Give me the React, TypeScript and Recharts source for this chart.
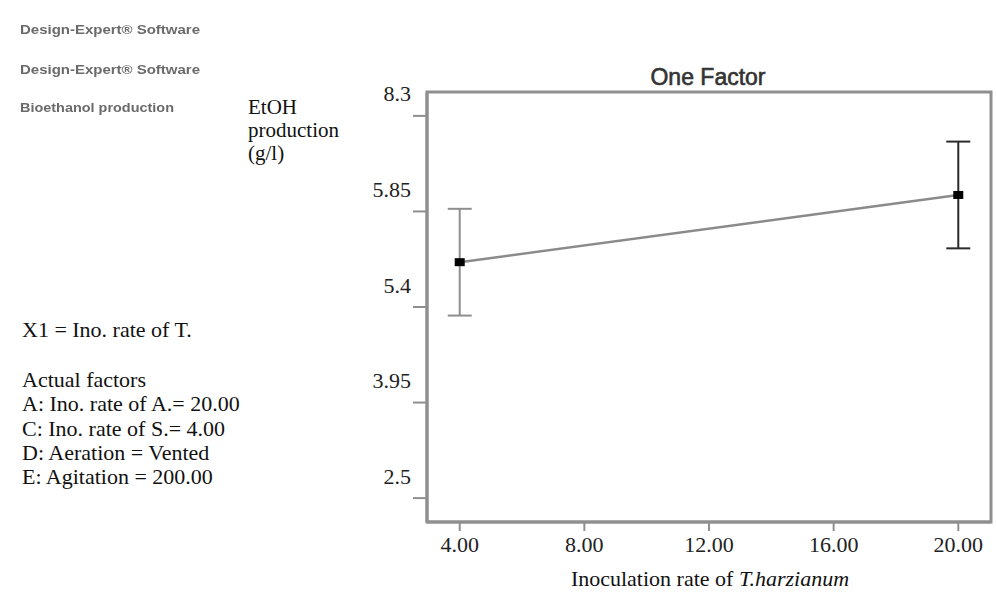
import React from 'react';
import {
  ComposedChart,
  Line,
  Scatter,
  XAxis,
  YAxis,
  ErrorBar,
  ReferenceArea,
} from 'recharts';

// ---- data ----
const inoculationRates = [4, 20];
const etohMeans = [6.08, 7.1];
const etohErrors = [0.81, 0.81];
const errorBarColors = ['#8e8e8e', '#2b2b2b'];

const xTicks = [4, 8, 12, 16, 20];
const xDomain = [2.95, 21.05];
const yTicks = [2.5, 3.95, 5.4, 6.85, 8.3];
const yTickLabels = ['2.5', '3.95', '5.4', '5.85', '8.3'];
const yDomain = [2.1375, 8.6625];

const softwareLines = ['Design-Expert® Software', 'Design-Expert® Software', 'Bioethanol production'];
const yTitleLines = ['EtOH', 'production', '(g/l)'];
const factorHeader = 'X1 = Ino. rate of T.';
const factorLines = [
  'Actual factors',
  'A: Ino. rate of A.= 20.00',
  'C: Ino. rate of S.= 4.00',
  'D: Aeration = Vented',
  'E: Agitation = 200.00',
];
const chartTitle = 'One Factor';
const xTitlePlain = 'Inoculation rate of ';
const xTitleItalic = 'T.harzianum';

const rows = inoculationRates.map((x, i) => ({ x, y: etohMeans[i], err: etohErrors[i] }));

const SERIF = '"Liberation Serif", "Times New Roman", serif';
const SANS = '"Liberation Sans", Arial, sans-serif';
const AXIS_GREY = '#8f8f8f';

const YTick = (props: any) => {
  const { x, y, payload } = props;
  const idx = yTicks.indexOf(payload.value);
  return (
    <text x={x} y={y} dy={-14.5} textAnchor="end" fontFamily={SERIF} fontSize={22} fill="#222">
      {idx >= 0 ? yTickLabels[idx] : payload.value}
    </text>
  );
};

const Marker = (props: any) => {
  const { cx, cy } = props;
  if (cx == null || cy == null) return null;
  return <rect x={cx - 5} y={cy - 4} width={10} height={8} fill="#000" />;
};

export default function App() {
  return (
    <div style={{ position: 'absolute', left: 0, top: 0, width: 996, height: 592, background: '#fff' }}>
      <div style={{ position: 'absolute', left: 0, top: 0 }}>
        <ComposedChart
          width={996}
          height={592}
          margin={{ top: 92, right: 5, bottom: 0, left: 0 }}
        >
          <XAxis
            type="number"
            dataKey="x"
            domain={xDomain}
            ticks={xTicks}
            allowDataOverflow
            height={70}
            tickSize={9}
            tickMargin={5}
            tickFormatter={(v: number) => v.toFixed(2)}
            tick={{ fill: '#222', fontSize: 22, fontFamily: SERIF }}
            axisLine={{ stroke: AXIS_GREY, strokeWidth: 3 }}
            tickLine={{ stroke: AXIS_GREY, strokeWidth: 2 }}
          />
          <YAxis
            type="number"
            domain={yDomain}
            ticks={yTicks}
            allowDataOverflow
            width={427}
            tickSize={14}
            tickMargin={2}
            tick={<YTick />}
            axisLine={{ stroke: AXIS_GREY, strokeWidth: 3 }}
            tickLine={{ stroke: AXIS_GREY, strokeWidth: 2 }}
          />
          <ReferenceArea
            x1={xDomain[0]}
            x2={xDomain[1]}
            y1={yDomain[0]}
            y2={yDomain[1]}
            fill="none"
            fillOpacity={0}
            stroke={AXIS_GREY}
            strokeWidth={3}
            ifOverflow="visible"
          />
          <Line
            data={rows}
            dataKey="y"
            type="linear"
            stroke="#8a8a8a"
            strokeWidth={2.5}
            dot={false}
            activeDot={false}
            isAnimationActive={false}
          />
          {rows.map((r, i) => (
            <Scatter
              key={i}
              data={[r]}
              dataKey="y"
              shape={<Marker />}
              isAnimationActive={false}
            >
              <ErrorBar
                dataKey="err"
                direction="y"
                width={12}
                stroke={errorBarColors[i]}
                strokeWidth={2}
                isAnimationActive={false}
              />
            </Scatter>
          ))}
        </ComposedChart>
      </div>
      <svg
        width={996}
        height={592}
        style={{ position: 'absolute', left: 0, top: 0, pointerEvents: 'none' }}
      >
        <defs>
          <filter id="soft" x="-5%" y="-50%" width="110%" height="200%">
            <feGaussianBlur stdDeviation="0.6" />
          </filter>
        </defs>
        {softwareLines.map((t, i) => (
          <text
            key={i}
            x={20}
            y={[34, 74, 112][i]}
            fontFamily={SANS}
            fontSize={13}
            fontWeight="bold"
            fill="#6a6a6a"
            textLength={i < 2 ? 180 : 154}
            lengthAdjust="spacingAndGlyphs"
            filter="url(#soft)"
          >
            {t}
          </text>
        ))}
        {yTitleLines.map((t, i) => (
          <text key={i} x={248} y={114 + i * 23} fontFamily={SERIF} fontSize={21} fill="#111">
            {t}
          </text>
        ))}
        <text x={22} y={337} fontFamily={SERIF} fontSize={22} fill="#111">
          {factorHeader}
        </text>
        {factorLines.map((t, i) => (
          <text key={i} x={22} y={386.7 + i * 24.4} fontFamily={SERIF} fontSize={22} fill="#111">
            {t}
          </text>
        ))}
        <text
          x={708}
          y={85}
          textAnchor="middle"
          fontFamily={SANS}
          fontSize={23}
          fill="#333"
          stroke="#333"
          strokeWidth={0.6}
        >
          {chartTitle}
        </text>
        <text x={710} y={586} textAnchor="middle" fontFamily={SERIF} fontSize={22} fill="#111">
          {xTitlePlain}
          <tspan fontStyle="italic">{xTitleItalic}</tspan>
        </text>
      </svg>
    </div>
  );
}
